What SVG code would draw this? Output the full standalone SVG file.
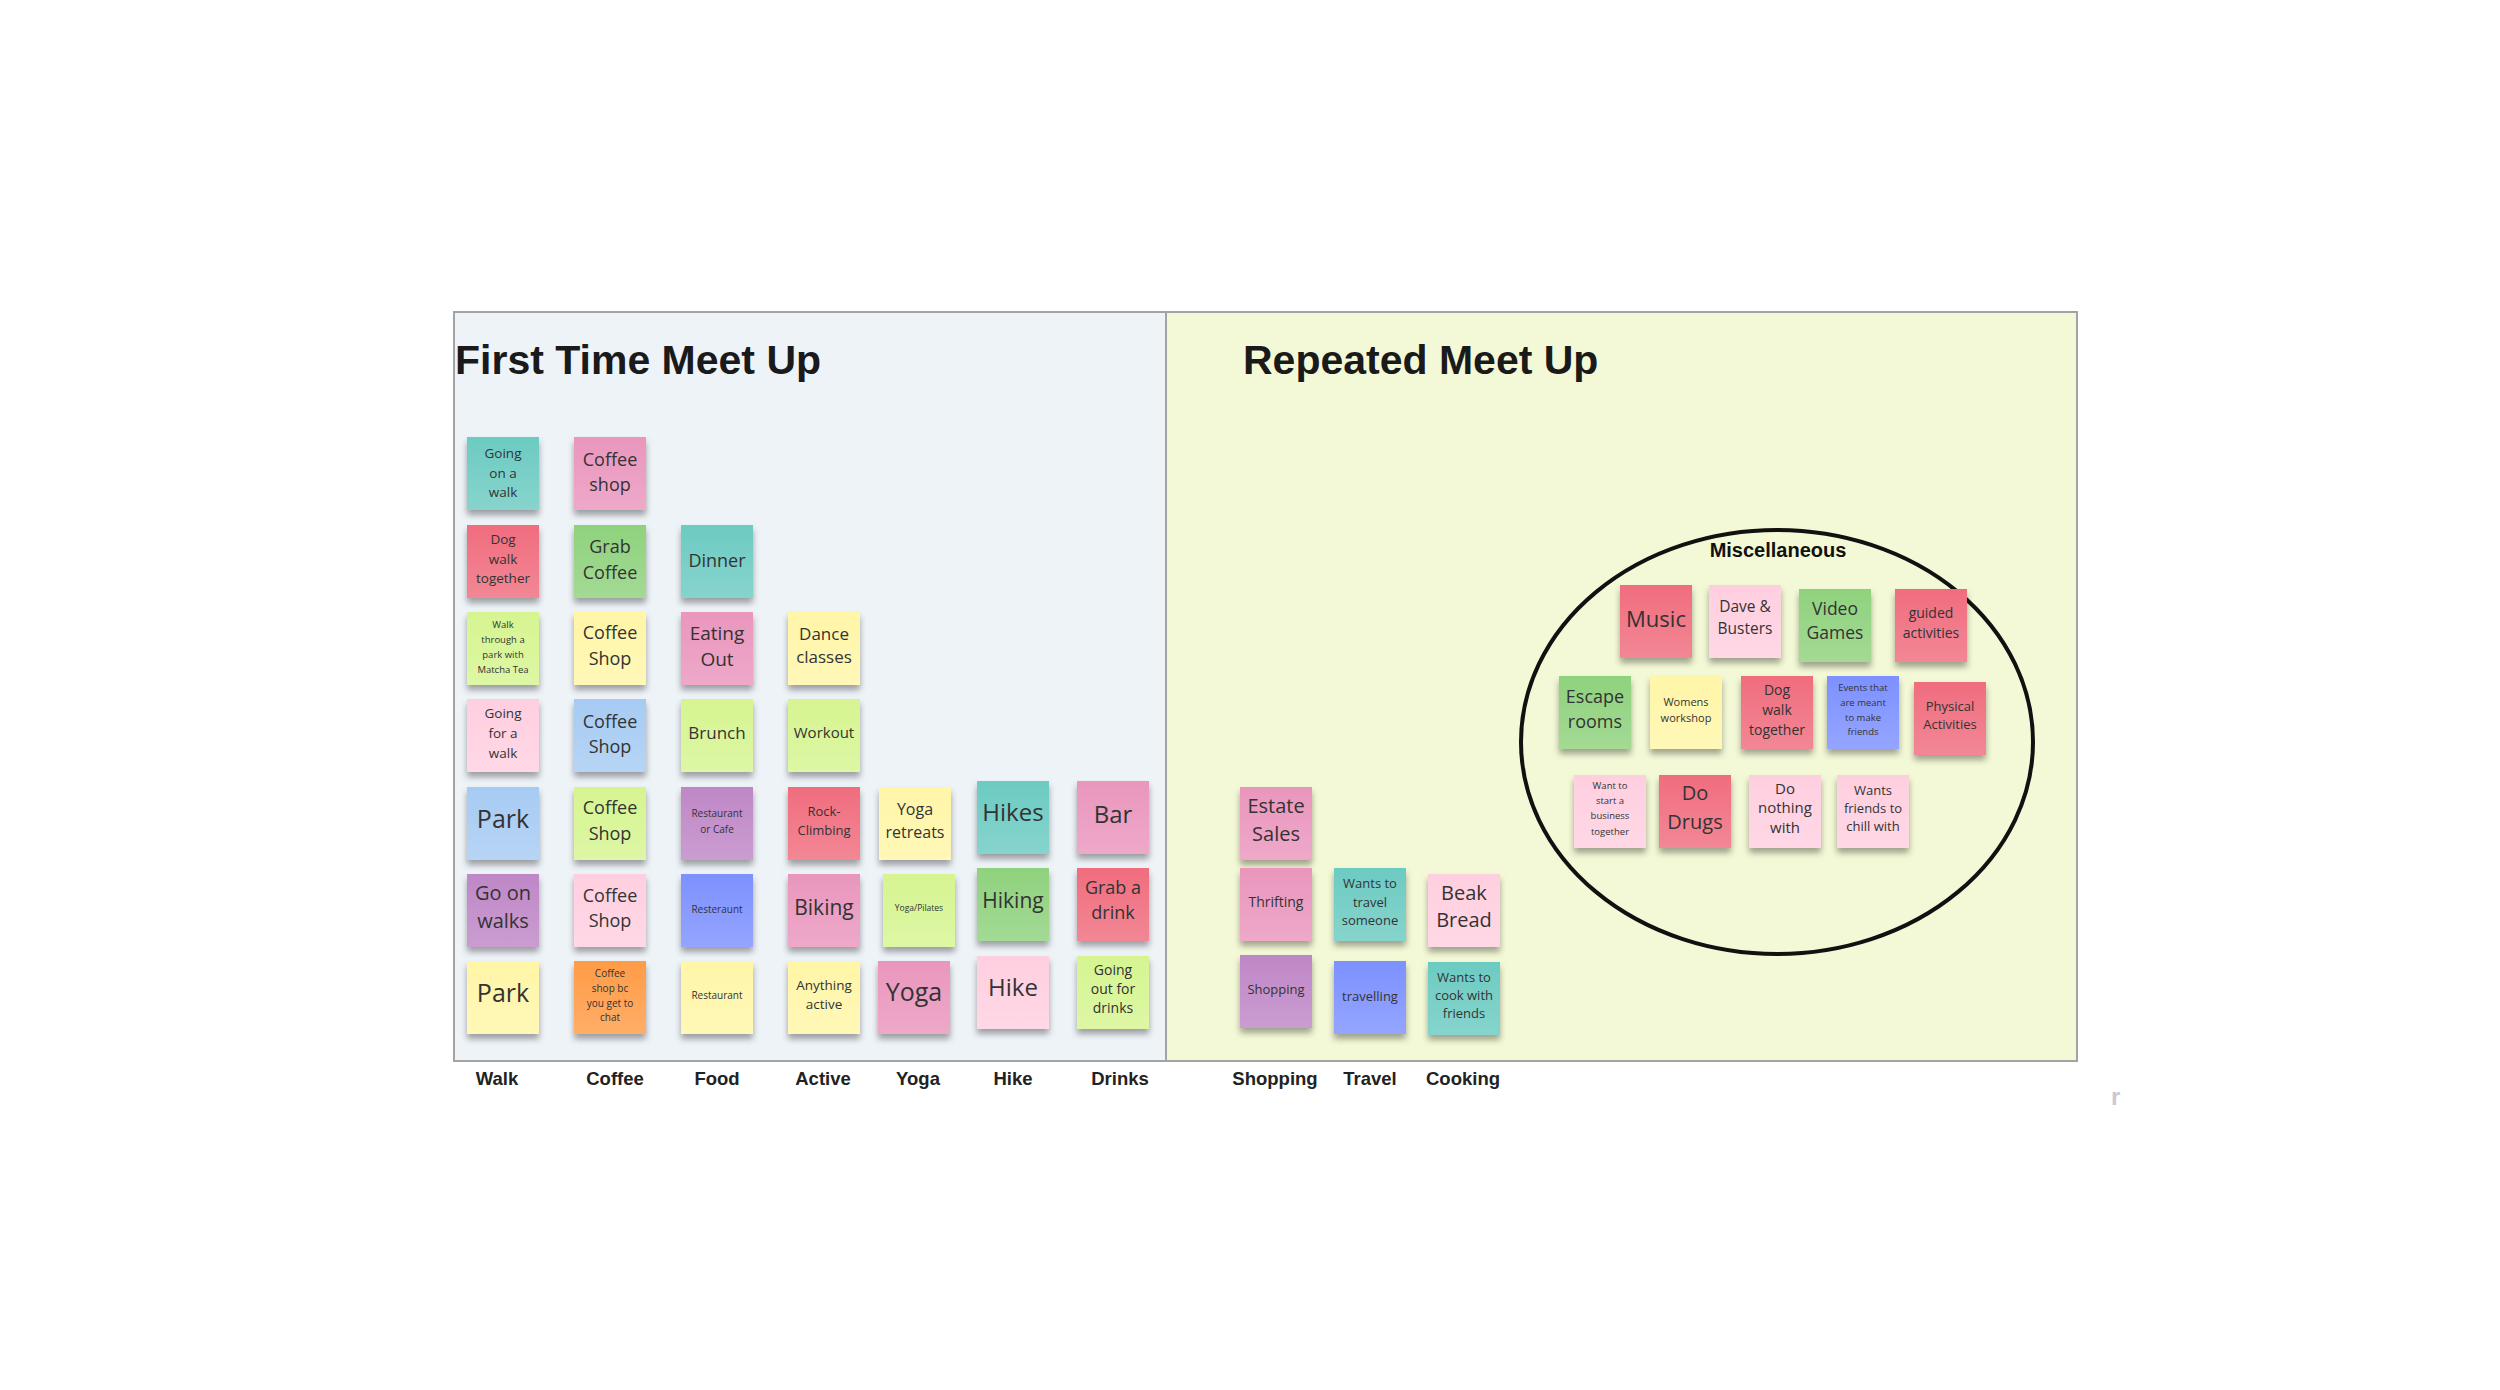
<svg xmlns="http://www.w3.org/2000/svg" width="2500" height="1390" viewBox="0 0 2500 1390">
<defs>
<filter id="sh" x="-20%" y="-20%" width="140%" height="160%">
<feDropShadow dx="0" dy="5" stdDeviation="3" flood-color="#000" flood-opacity="0.35"/>
</filter>
<linearGradient id="sheen" x1="0" y1="0" x2="0" y2="1">
<stop offset="0" stop-color="#fff" stop-opacity="0"/>
<stop offset="1" stop-color="#fff" stop-opacity="0.18"/>
</linearGradient>
<style>
.n{filter:url(#sh)}
.sh{fill:url(#sheen)}
.t{font-family:"Open Sans","Liberation Sans",sans-serif;fill:#333;text-anchor:middle}
.lbl{font-family:"Liberation Sans",Arial,sans-serif;font-weight:bold;font-size:18.5px;fill:#222;text-anchor:middle}
.title{font-family:"Liberation Sans",Arial,sans-serif;font-weight:bold;font-size:41px;fill:#1a1a1a}
.teal{fill:#6ccbc2}.pink{fill:#ea96bd}.red{fill:#f06d7e}.green{fill:#8fd27d}.lime{fill:#d6f591}
.yellow{fill:#fff6a8}.lpink{fill:#ffcfe0}.lblue{fill:#a7cbf3}.purple{fill:#bf87c7}.blue{fill:#7d91ff}.orange{fill:#ff9c46}
</style>
</defs>
<rect width="2500" height="1390" fill="#fff"/>
<g id="frames">
<rect x="454" y="312" width="712" height="749" fill="#eef3f8" stroke="#a3a3a3" stroke-width="2"/>
<rect x="1166" y="312" width="911" height="749" fill="#f3f9d6" stroke="#a3a3a3" stroke-width="2"/>
<text class="title" x="455" y="374">First Time Meet Up</text>
<text class="title" x="1243" y="374">Repeated Meet Up</text>
</g>
<g id="misc">
<ellipse cx="1777" cy="742" rx="256" ry="212" fill="none" stroke="#111" stroke-width="4"/>
<text x="1778" y="557" font-family="Liberation Sans, Arial, sans-serif" font-weight="bold" font-size="20" fill="#111" text-anchor="middle">Miscellaneous</text>
</g>
<g id="connectors"></g>

<!-- Walk -->
<g id="walk-1"><rect class="n teal" x="467" y="437" width="72" height="73"/><rect class="sh" x="467" y="437" width="72" height="73"/><text class="t" font-size="13.5"><tspan x="503" y="458">Going</tspan><tspan x="503" y="478">on a</tspan><tspan x="503" y="497">walk</tspan></text></g>
<g id="walk-2"><rect class="n red" x="467" y="525" width="72" height="73"/><rect class="sh" x="467" y="525" width="72" height="73"/><text class="t" font-size="13.5"><tspan x="503" y="544">Dog</tspan><tspan x="503" y="564">walk</tspan><tspan x="503" y="583">together</tspan></text></g>
<g id="walk-3"><rect class="n lime" x="467" y="612" width="72" height="73"/><rect class="sh" x="467" y="612" width="72" height="73"/><text class="t" font-size="9.5"><tspan x="503" y="628">Walk</tspan><tspan x="503" y="643">through a</tspan><tspan x="503" y="658">park with</tspan><tspan x="503" y="673">Matcha Tea</tspan></text></g>
<g id="walk-4"><rect class="n lpink" x="467" y="699" width="72" height="73"/><rect class="sh" x="467" y="699" width="72" height="73"/><text class="t" font-size="13.5"><tspan x="503" y="718">Going</tspan><tspan x="503" y="738">for a</tspan><tspan x="503" y="758">walk</tspan></text></g>
<g id="walk-5"><rect class="n lblue" x="467" y="787" width="72" height="73"/><rect class="sh" x="467" y="787" width="72" height="73"/><text class="t" font-size="25" x="503" y="828">Park</text></g>
<g id="walk-6"><rect class="n purple" x="467" y="874" width="72" height="73"/><rect class="sh" x="467" y="874" width="72" height="73"/><text class="t" font-size="20"><tspan x="503" y="900">Go on</tspan><tspan x="503" y="928">walks</tspan></text></g>
<g id="walk-7"><rect class="n yellow" x="467" y="961" width="72" height="73"/><rect class="sh" x="467" y="961" width="72" height="73"/><text class="t" font-size="25" x="503" y="1002">Park</text></g>

<!-- Coffee -->
<g id="coffee-1"><rect class="n pink" x="574" y="437" width="72" height="73"/><rect class="sh" x="574" y="437" width="72" height="73"/><text class="t" font-size="18"><tspan x="610" y="466">Coffee</tspan><tspan x="610" y="491">shop</tspan></text></g>
<g id="coffee-2"><rect class="n green" x="574" y="525" width="72" height="73"/><rect class="sh" x="574" y="525" width="72" height="73"/><text class="t" font-size="18"><tspan x="610" y="553">Grab</tspan><tspan x="610" y="579">Coffee</tspan></text></g>
<g id="coffee-3"><rect class="n yellow" x="574" y="612" width="72" height="73"/><rect class="sh" x="574" y="612" width="72" height="73"/><text class="t" font-size="18"><tspan x="610" y="639">Coffee</tspan><tspan x="610" y="665">Shop</tspan></text></g>
<g id="coffee-4"><rect class="n lblue" x="574" y="699" width="72" height="73"/><rect class="sh" x="574" y="699" width="72" height="73"/><text class="t" font-size="18"><tspan x="610" y="728">Coffee</tspan><tspan x="610" y="753">Shop</tspan></text></g>
<g id="coffee-5"><rect class="n lime" x="574" y="787" width="72" height="73"/><rect class="sh" x="574" y="787" width="72" height="73"/><text class="t" font-size="18"><tspan x="610" y="814">Coffee</tspan><tspan x="610" y="840">Shop</tspan></text></g>
<g id="coffee-6"><rect class="n lpink" x="574" y="874" width="72" height="73"/><rect class="sh" x="574" y="874" width="72" height="73"/><text class="t" font-size="18"><tspan x="610" y="902">Coffee</tspan><tspan x="610" y="927">Shop</tspan></text></g>
<g id="coffee-7"><rect class="n orange" x="574" y="961" width="72" height="73"/><rect class="sh" x="574" y="961" width="72" height="73"/><text class="t" font-size="10"><tspan x="610" y="977">Coffee</tspan><tspan x="610" y="992">shop bc</tspan><tspan x="610" y="1007">you get to</tspan><tspan x="610" y="1021">chat</tspan></text></g>

<!-- Food -->
<g id="food-2"><rect class="n teal" x="681" y="525" width="72" height="73"/><rect class="sh" x="681" y="525" width="72" height="73"/><text class="t" font-size="18" x="717" y="567">Dinner</text></g>
<g id="food-3"><rect class="n pink" x="681" y="612" width="72" height="73"/><rect class="sh" x="681" y="612" width="72" height="73"/><text class="t" font-size="19"><tspan x="717" y="640">Eating</tspan><tspan x="717" y="666">Out</tspan></text></g>
<g id="food-4"><rect class="n lime" x="681" y="699" width="72" height="73"/><rect class="sh" x="681" y="699" width="72" height="73"/><text class="t" font-size="17" x="717" y="739">Brunch</text></g>
<g id="food-5"><rect class="n purple" x="681" y="787" width="72" height="73"/><rect class="sh" x="681" y="787" width="72" height="73"/><text class="t" font-size="10"><tspan x="717" y="817">Restaurant</tspan><tspan x="717" y="833">or Cafe</tspan></text></g>
<g id="food-6"><rect class="n blue" x="681" y="874" width="72" height="73"/><rect class="sh" x="681" y="874" width="72" height="73"/><text class="t" font-size="10" x="717" y="913">Resteraunt</text></g>
<g id="food-7"><rect class="n yellow" x="681" y="961" width="72" height="73"/><rect class="sh" x="681" y="961" width="72" height="73"/><text class="t" font-size="10" x="717" y="999">Restaurant</text></g>

<!-- Active -->
<g id="active-3"><rect class="n yellow" x="788" y="612" width="72" height="73"/><rect class="sh" x="788" y="612" width="72" height="73"/><text class="t" font-size="17"><tspan x="824" y="640">Dance</tspan><tspan x="824" y="663">classes</tspan></text></g>
<g id="active-4"><rect class="n lime" x="788" y="699" width="72" height="73"/><rect class="sh" x="788" y="699" width="72" height="73"/><text class="t" font-size="15" x="824" y="738">Workout</text></g>
<g id="active-5"><rect class="n red" x="788" y="787" width="72" height="73"/><rect class="sh" x="788" y="787" width="72" height="73"/><text class="t" font-size="13"><tspan x="824" y="816">Rock-</tspan><tspan x="824" y="835">Climbing</tspan></text></g>
<g id="active-6"><rect class="n pink" x="788" y="874" width="72" height="73"/><rect class="sh" x="788" y="874" width="72" height="73"/><text class="t" font-size="21" x="824" y="915">Biking</text></g>
<g id="active-7"><rect class="n yellow" x="788" y="961" width="72" height="73"/><rect class="sh" x="788" y="961" width="72" height="73"/><text class="t" font-size="13.5"><tspan x="824" y="990">Anything</tspan><tspan x="824" y="1009">active</tspan></text></g>

<!-- Yoga -->
<g id="yoga-5"><rect class="n yellow" x="879" y="787" width="72" height="73"/><rect class="sh" x="879" y="787" width="72" height="73"/><text class="t" font-size="16"><tspan x="915" y="815">Yoga</tspan><tspan x="915" y="838">retreats</tspan></text></g>
<g id="yoga-6"><rect class="n lime" x="883" y="874" width="72" height="73"/><rect class="sh" x="883" y="874" width="72" height="73"/><text class="t" font-size="8.5" x="919" y="911">Yoga/Pilates</text></g>
<g id="yoga-7"><rect class="n pink" x="878" y="961" width="72" height="73"/><rect class="sh" x="878" y="961" width="72" height="73"/><text class="t" font-size="25" x="914" y="1001">Yoga</text></g>

<!-- Hike -->
<g id="hike-5"><rect class="n teal" x="977" y="781" width="72" height="73"/><rect class="sh" x="977" y="781" width="72" height="73"/><text class="t" font-size="24" x="1013" y="821">Hikes</text></g>
<g id="hike-6"><rect class="n green" x="977" y="868" width="72" height="73"/><rect class="sh" x="977" y="868" width="72" height="73"/><text class="t" font-size="21" x="1013" y="908">Hiking</text></g>
<g id="hike-7"><rect class="n lpink" x="977" y="956" width="72" height="73"/><rect class="sh" x="977" y="956" width="72" height="73"/><text class="t" font-size="24" x="1013" y="996">Hike</text></g>

<!-- Drinks -->
<g id="drinks-5"><rect class="n pink" x="1077" y="781" width="72" height="73"/><rect class="sh" x="1077" y="781" width="72" height="73"/><text class="t" font-size="24" x="1113" y="823">Bar</text></g>
<g id="drinks-6"><rect class="n red" x="1077" y="868" width="72" height="73"/><rect class="sh" x="1077" y="868" width="72" height="73"/><text class="t" font-size="18"><tspan x="1113" y="894">Grab a</tspan><tspan x="1113" y="919">drink</tspan></text></g>
<g id="drinks-7"><rect class="n lime" x="1077" y="956" width="72" height="73"/><rect class="sh" x="1077" y="956" width="72" height="73"/><text class="t" font-size="14"><tspan x="1113" y="975">Going</tspan><tspan x="1113" y="994">out for</tspan><tspan x="1113" y="1013">drinks</tspan></text></g>

<!-- Shopping / Travel / Cooking -->
<g id="shop-1"><rect class="n pink" x="1240" y="787" width="72" height="73"/><rect class="sh" x="1240" y="787" width="72" height="73"/><text class="t" font-size="20"><tspan x="1276" y="813">Estate</tspan><tspan x="1276" y="841">Sales</tspan></text></g>
<g id="shop-2"><rect class="n pink" x="1240" y="868" width="72" height="73"/><rect class="sh" x="1240" y="868" width="72" height="73"/><text class="t" font-size="14" x="1276" y="907">Thrifting</text></g>
<g id="shop-3"><rect class="n purple" x="1240" y="955" width="72" height="73"/><rect class="sh" x="1240" y="955" width="72" height="73"/><text class="t" font-size="13" x="1276" y="994">Shopping</text></g>
<g id="travel-1"><rect class="n teal" x="1334" y="868" width="72" height="73"/><rect class="sh" x="1334" y="868" width="72" height="73"/><text class="t" font-size="13"><tspan x="1370" y="888">Wants to</tspan><tspan x="1370" y="907">travel</tspan><tspan x="1370" y="925">someone</tspan></text></g>
<g id="travel-2"><rect class="n blue" x="1334" y="961" width="72" height="73"/><rect class="sh" x="1334" y="961" width="72" height="73"/><text class="t" font-size="13" x="1370" y="1001">travelling</text></g>
<g id="cook-1"><rect class="n lpink" x="1428" y="874" width="72" height="73"/><rect class="sh" x="1428" y="874" width="72" height="73"/><text class="t" font-size="20"><tspan x="1464" y="900">Beak</tspan><tspan x="1464" y="927">Bread</tspan></text></g>
<g id="cook-2"><rect class="n teal" x="1428" y="962" width="72" height="73"/><rect class="sh" x="1428" y="962" width="72" height="73"/><text class="t" font-size="13"><tspan x="1464" y="982">Wants to</tspan><tspan x="1464" y="1000">cook with</tspan><tspan x="1464" y="1018">friends</tspan></text></g>

<!-- Miscellaneous -->
<g id="misc-music"><rect class="n red" x="1620" y="585" width="72" height="73"/><rect class="sh" x="1620" y="585" width="72" height="73"/><text class="t" font-size="22" x="1656" y="627">Music</text></g>
<g id="misc-dave"><rect class="n lpink" x="1709" y="585" width="72" height="73"/><rect class="sh" x="1709" y="585" width="72" height="73"/><text class="t" font-size="15.5"><tspan x="1745" y="612">Dave &amp;</tspan><tspan x="1745" y="634">Busters</tspan></text></g>
<g id="misc-video"><rect class="n green" x="1799" y="589" width="72" height="73"/><rect class="sh" x="1799" y="589" width="72" height="73"/><text class="t" font-size="17.5"><tspan x="1835" y="615">Video</tspan><tspan x="1835" y="639">Games</tspan></text></g>
<g id="misc-guided"><rect class="n red" x="1895" y="589" width="72" height="73"/><rect class="sh" x="1895" y="589" width="72" height="73"/><text class="t" font-size="14"><tspan x="1931" y="618">guided</tspan><tspan x="1931" y="638">activities</tspan></text></g>
<g id="misc-escape"><rect class="n green" x="1559" y="676" width="72" height="73"/><rect class="sh" x="1559" y="676" width="72" height="73"/><text class="t" font-size="18"><tspan x="1595" y="703">Escape</tspan><tspan x="1595" y="728">rooms</tspan></text></g>
<g id="misc-womens"><rect class="n yellow" x="1650" y="676" width="72" height="73"/><rect class="sh" x="1650" y="676" width="72" height="73"/><text class="t" font-size="11"><tspan x="1686" y="706">Womens</tspan><tspan x="1686" y="722">workshop</tspan></text></g>
<g id="misc-dog"><rect class="n red" x="1741" y="676" width="72" height="73"/><rect class="sh" x="1741" y="676" width="72" height="73"/><text class="t" font-size="14"><tspan x="1777" y="695">Dog</tspan><tspan x="1777" y="715">walk</tspan><tspan x="1777" y="735">together</tspan></text></g>
<g id="misc-events"><rect class="n blue" x="1827" y="676" width="72" height="73"/><rect class="sh" x="1827" y="676" width="72" height="73"/><text class="t" font-size="9.5"><tspan x="1863" y="691">Events that</tspan><tspan x="1863" y="706">are meant</tspan><tspan x="1863" y="721">to make</tspan><tspan x="1863" y="735">friends</tspan></text></g>
<g id="misc-physical"><rect class="n red" x="1914" y="682" width="72" height="73"/><rect class="sh" x="1914" y="682" width="72" height="73"/><text class="t" font-size="13"><tspan x="1950" y="711">Physical</tspan><tspan x="1950" y="729">Activities</tspan></text></g>
<g id="misc-business"><rect class="n lpink" x="1574" y="775" width="72" height="73"/><rect class="sh" x="1574" y="775" width="72" height="73"/><text class="t" font-size="9.5"><tspan x="1610" y="789">Want to</tspan><tspan x="1610" y="804">start a</tspan><tspan x="1610" y="819">business</tspan><tspan x="1610" y="835">together</tspan></text></g>
<g id="misc-drugs"><rect class="n red" x="1659" y="775" width="72" height="73"/><rect class="sh" x="1659" y="775" width="72" height="73"/><text class="t" font-size="20"><tspan x="1695" y="800">Do</tspan><tspan x="1695" y="829">Drugs</tspan></text></g>
<g id="misc-nothing"><rect class="n lpink" x="1749" y="775" width="72" height="73"/><rect class="sh" x="1749" y="775" width="72" height="73"/><text class="t" font-size="15"><tspan x="1785" y="794">Do</tspan><tspan x="1785" y="813">nothing</tspan><tspan x="1785" y="833">with</tspan></text></g>
<g id="misc-chill"><rect class="n lpink" x="1837" y="775" width="72" height="73"/><rect class="sh" x="1837" y="775" width="72" height="73"/><text class="t" font-size="13"><tspan x="1873" y="795">Wants</tspan><tspan x="1873" y="813">friends to</tspan><tspan x="1873" y="831">chill with</tspan></text></g>

<g id="labels">
<text class="lbl" x="497" y="1085">Walk</text>
<text class="lbl" x="615" y="1085">Coffee</text>
<text class="lbl" x="717" y="1085">Food</text>
<text class="lbl" x="823" y="1085">Active</text>
<text class="lbl" x="918" y="1085">Yoga</text>
<text class="lbl" x="1013" y="1085">Hike</text>
<text class="lbl" x="1120" y="1085">Drinks</text>
<text class="lbl" x="1275" y="1085">Shopping</text>
<text class="lbl" x="1370" y="1085">Travel</text>
<text class="lbl" x="1463" y="1085">Cooking</text>
</g>
<text x="2111" y="1105" font-family="Liberation Sans, Arial, sans-serif" font-weight="bold" font-size="24" fill="#c9c9d6">r</text>
</svg>
